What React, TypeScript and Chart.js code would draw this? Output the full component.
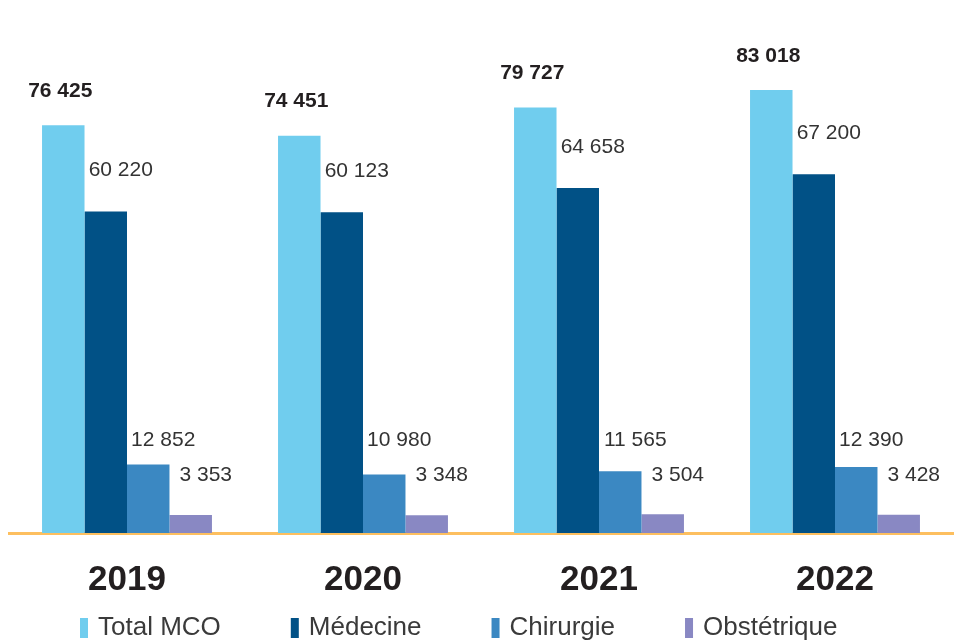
import React, { useEffect, useRef } from "react";
import { Chart, registerables } from "chart.js";

Chart.register(...registerables);

const years = ["2019", "2020", "2021", "2022"];
const totalMCO = [76425, 74451, 79727, 83018];
const medecine = [60220, 60123, 64658, 67200];
const chirurgie = [12852, 10980, 11565, 12390];
const obstetrique = [3353, 3348, 3504, 3428];
const seriesNames = ["Total MCO", "Médecine", "Chirurgie", "Obstétrique"];
const seriesColors = ["#70CDEE", "#015186", "#3B88C2", "#8988C3"];

const FONT = "'Liberation Sans', Arial, sans-serif";
const TEXT = "#231F20";

const fmt = (v: number) => String(v).replace(/\B(?=(\d{3})+(?!\d))/g, " ");

const labelPlugin = {
  id: "valueLabels",
  afterDatasetsDraw(chart: any) {
    const ctx = chart.ctx;
    const area = chart.chartArea;
    ctx.save();
    ctx.textAlign = "center";
    ctx.textBaseline = "middle";
    chart.data.datasets.forEach((ds: any, i: number) => {
      const meta = chart.getDatasetMeta(i);
      meta.data.forEach((bar: any, j: number) => {
        const v = ds.data[j] as number;
        let x = bar.x + 15;
        let y = bar.y - 41;
        if (i === 0) {
          x = bar.x - 3;
          y = bar.y - 34;
          ctx.font = `bold 21px ${FONT}`;
        } else {
          ctx.font = `21px ${FONT}`;
        }
        if (i === 2) y = area.bottom - 93;
        if (i === 3) y = area.bottom - 58;
        ctx.fillStyle = i === 0 ? TEXT : "#333333";
        ctx.fillText(fmt(v), x, y);
      });
    });
    ctx.restore();
  },
};

const legendPlugin = {
  id: "customLegend",
  afterDraw(chart: any) {
    const ctx = chart.ctx;
    ctx.save();
    ctx.font = `26px ${FONT}`;
    ctx.textBaseline = "middle";
    ctx.textAlign = "left";
    const yc = 628;
    let x = 80;
    chart.data.datasets.forEach((ds: any) => {
      ctx.fillStyle = ds.backgroundColor;
      ctx.fillRect(x, yc - 10, 8, 20);
      ctx.fillStyle = "#3A3A3A";
      ctx.fillText(ds.label, x + 18, yc);
      x += 18 + ctx.measureText(ds.label).width + 70;
    });
    ctx.restore();
  },
};

export default function App() {
  const ref = useRef<HTMLCanvasElement | null>(null);
  useEffect(() => {
    if (!ref.current) return;
    const values = [totalMCO, medecine, chirurgie, obstetrique];
    const chart = new Chart(ref.current, {
      type: "bar",
      data: {
        labels: years,
        datasets: values.map((d, i) => ({
          label: seriesNames[i],
          data: d,
          backgroundColor: seriesColors[i],
          borderWidth: 0,
          categoryPercentage: 0.72,
          barPercentage: 1.0,
        })),
      },
      options: {
        animation: false,
        responsive: true,
        maintainAspectRatio: false,
        layout: { padding: { top: 10, left: 9, right: 2, bottom: 22 } },
        plugins: {
          legend: { display: false },
          tooltip: { enabled: false },
        },
        scales: {
          x: {
            grid: { display: false },
            border: { display: true, color: "#FDBF5F", width: 3 },
            ticks: {
              color: TEXT,
              padding: 18,
              font: { family: FONT, size: 35, weight: "bold", lineHeight: 1.2 },
            },
          },
          y: {
            display: false,
            min: 0,
            max: 98000,
          },
        },
      },
      plugins: [labelPlugin, legendPlugin],
    });
    return () => chart.destroy();
  }, []);
  return (
    <div style={{ position: "fixed", left: 0, top: 0, width: 955, height: 641, background: "#fff" }}>
      <canvas ref={ref} />
    </div>
  );
}
